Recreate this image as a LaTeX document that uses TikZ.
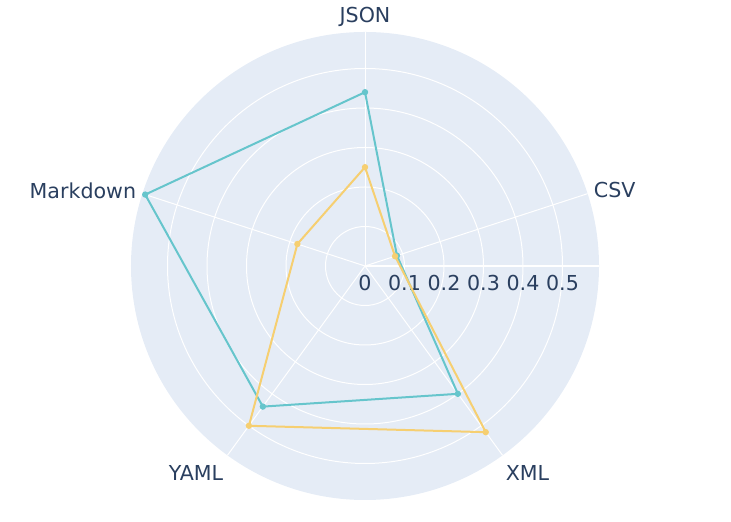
\documentclass[tikz,border=0pt]{standalone}
\usepackage{fontspec}
\setmainfont{DejaVu Sans}
\usetikzlibrary{positioning}
\definecolor{polarbg}{HTML}{E5ECF6}
\definecolor{labelblue}{HTML}{2A3F5F}
\definecolor{tealline}{HTML}{66C5CC}
\definecolor{sandline}{HTML}{F6CF71}
\tikzstyle{gridline} = [white,line width=0.5pt]
\tikzstyle{trace} = [line width=1pt,line join=round]
\tikzstyle{dot} = [circle,inner sep=0pt,minimum size=3.2pt]
\tikzstyle{axislabel} = [text=labelblue,font=\fontsize{10.3}{12}\selectfont,inner sep=0pt]

\begin{document}
\begin{tikzpicture}[x=0.5pt,y=0.5pt]
   \useasboundingbox (-365,-256) rectangle (366,266);
   \coordinate (c) at (0,0);
   % polar area and grid
   \fill[polarbg] (c) circle (234);
   \foreach \r in {39.5,79,118.5,158,197.5}
      \draw[gridline] (c) circle (\r);
   \foreach \a [count=\i] in {90,18,-54,-126,162} {
      \coordinate (spoke\i) at (\a:234);
      \draw[gridline] (c) -- (spoke\i);
   }
   \coordinate (rend) at (0:234);
   \draw[gridline,line width=0.8pt] (c) -- (rend);

   % radial ticks
   \node[axislabel,anchor=base] (tick0) at (0,-25) {0};
   \foreach \k in {1,...,5}
      \node[axislabel,anchor=base] (tick\k) at (\k*39.5,-25) {0.\k};

   % angular labels
   \node[axislabel,anchor=base] (json) at (0,243.5) {JSON};
   \node[axislabel,anchor=base west] (csv) at (228.5,68.7) {CSV};
   \node[axislabel,anchor=base] (xml) at (162.5,-215) {XML};
   \node[axislabel,anchor=base] (yaml) at (-169,-215) {YAML};
   \node[axislabel,anchor=base east] (markdown) at (-228.5,67.7) {Markdown};

   % first series
   \foreach \a/\r [count=\i] in {90/173.8,18/33.6,-54/158,-126/173.8,162/231.1}
      \coordinate (t\i) at (\a:\r);
   \draw[trace,tealline] (t1) -- (t2) -- (t3) -- (t4) -- (t5) -- cycle;
   \foreach \i in {1,...,5}
      \node[dot,fill=tealline] (tdot\i) at (t\i) {};

   % second series
   \foreach \a/\r [count=\i] in {90/98.8,18/31.6,-54/205.4,-126/197.5,162/71.1}
      \coordinate (s\i) at (\a:\r);
   \draw[trace,sandline] (s1) -- (s2) -- (s3) -- (s4) -- (s5) -- cycle;
   \foreach \i in {1,...,5}
      \node[dot,fill=sandline] (sdot\i) at (s\i) {};
\end{tikzpicture}
\end{document}
